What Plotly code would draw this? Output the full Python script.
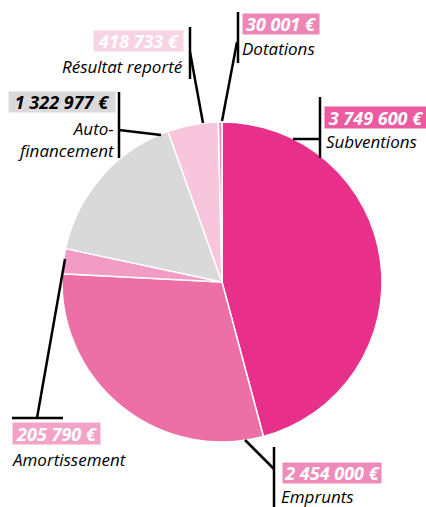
import plotly.graph_objects as go

categories = ["Subventions", "Emprunts", "Amortissement", "Auto-financement", "Résultat reporté", "Dotations"]
values = [3749600, 2454000, 205790, 1322977, 418733, 30001]
slice_colors = ["#E8308A", "#EC6FA6", "#F29BC4", "#D9D9D9", "#F7C5DC", "#EE8BBB"]
box_colors = ["#EC5AA0", "#EF8BBA", "#F3A3C8", "#DADADA", "#F8D3E4", "#EE86B7"]
box_text_colors = ["white", "white", "white", "black", "white", "white"]
name_texts = ["Subventions", "Emprunts", "Amortissement", "Auto-<br>financement", "Résultat reporté", "Dotations"]

W, H = 426, 507
def px(x): return x / W
def py(y): return 1 - y / H

def fmt(v):
    return f"{v:,}".replace(",", " ") + " €"

cx, cy, r = 222, 282, 160
fig = go.Figure(go.Pie(
    labels=categories, values=values, sort=False, direction="clockwise", rotation=0,
    marker=dict(colors=slice_colors, line=dict(color="white", width=1.5)),
    textinfo="none", hoverinfo="label+value", showlegend=False,
    domain=dict(x=[px(cx - r), px(cx + r)], y=[py(cy + r), py(cy - r)]),
))

# value boxes: (left, top, right, bottom) in pixels
boxes = [
    (324, 106, 426, 127),
    (282, 462, 380, 482),
    (12, 422, 99, 443),
    (8, 91, 114, 111),
    (93, 30, 182, 50),
    (242, 13, 318, 33),
]
# name labels: (x, center y, anchor)
names = [
    (325, 141, "left"),
    (280, 496, "left"),
    (11, 459, "left"),
    (116, 139, "right"),
    (184, 66, "right"),
    (241, 48, "left"),
]
FONT = "Open Sans"
for i in range(len(values)):
    l, t, rr, b = boxes[i]
    fig.add_annotation(x=px(l), y=py(t), xref="paper", yref="paper", xanchor="left", yanchor="top",
                       width=rr - l, height=b - t, borderpad=0, align="center", valign="middle",
                       text=fmt(values[i]), showarrow=False, bgcolor=box_colors[i],
                       font=dict(family=FONT, size=18, color=box_text_colors[i], weight="bold", style="italic"))
    x, yn, xa = names[i]
    fig.add_annotation(x=px(x), y=py(yn), xref="paper", yref="paper", xanchor=xa, yanchor="middle",
                       text=name_texts[i], showarrow=False, align=xa, borderpad=0,
                       font=dict(family=FONT, size=17, color="black", style="italic"))

leader_lines = [
    ((222, 121), (237, 42)), ((238, 12), (238, 63)),
    ((203, 123), (190, 52)), ((190, 27), (190, 79)),
    ((119, 130), (161, 135)), ((119, 92), (119, 158)),
    ((293, 139), (320, 139)), ((320, 97), (320, 158)),
    ((65, 259), (37, 418)), ((12, 418), (63, 418)),
    ((245, 440), (274, 469)), ((274, 447), (274, 507)),
]
for (x0, y0), (x1, y1) in leader_lines:
    fig.add_shape(type="line", xref="paper", yref="paper", x0=px(x0), y0=py(y0), x1=px(x1), y1=py(y1),
                  line=dict(color="black", width=2.5))

fig.update_layout(width=W, height=H, margin=dict(l=0, r=0, t=0, b=0),
                  paper_bgcolor="white", plot_bgcolor="white")
fig.write_html("out.html", post_script="document.body.style.margin='0';",
               config={"displayModeBar": False})
